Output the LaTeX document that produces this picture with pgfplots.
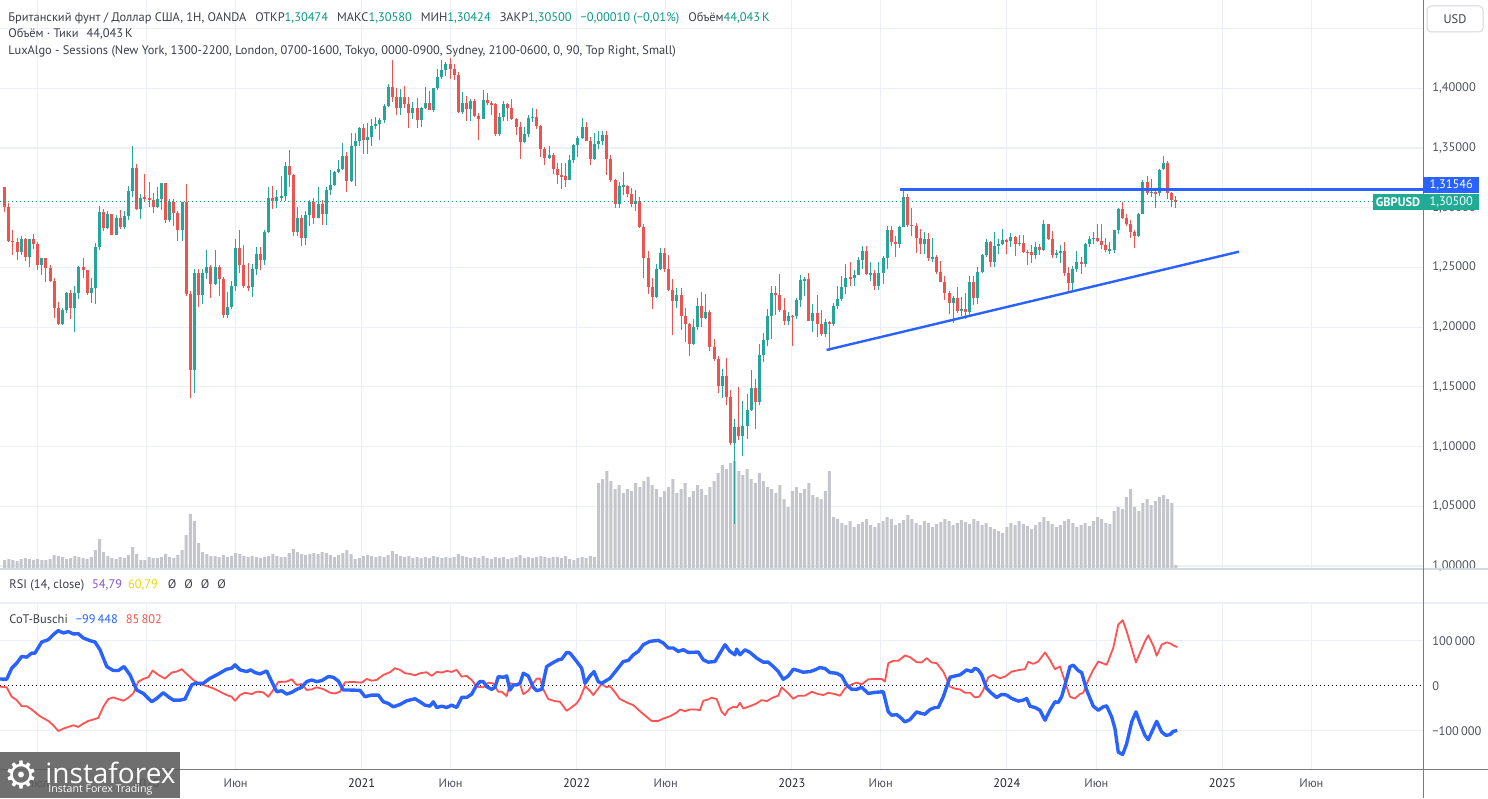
\documentclass[border=0pt]{standalone}
\usepackage{pgfplots}
\pgfplotsset{compat=1.18}
\usepackage{pgfplotstable}
\usepackage{fontspec}
\setmainfont{PT Sans}
\newfontfamily\logofont{Open Sans}
\newfontfamily\symfont{DejaVu Sans}
\definecolor{upc}{HTML}{26A69A}
\definecolor{dnc}{HTML}{EF5350}
\definecolor{volc}{RGB}{196,198,204}
\definecolor{gridc}{RGB}{236,239,245}
\definecolor{txt}{RGB}{60,63,72}
\definecolor{labc}{RGB}{80,83,94}
\definecolor{yearc}{RGB}{35,38,46}
\definecolor{tvteal}{HTML}{089981}
\definecolor{tagteal}{HTML}{22AB94}
\definecolor{tvblue}{HTML}{2962FF}
\definecolor{cotred}{HTML}{FF5252}
\definecolor{rsipurple}{HTML}{7E57C2}
\definecolor{rsiyellow}{RGB}{240,215,0}
\definecolor{axc}{RGB}{120,123,134}
\definecolor{sepc}{RGB}{212,215,223}
\definecolor{logoc}{RGB}{92,92,92}
\newcommand\tvf{\fontsize{6.2}{7.4}\selectfont}
\pgfplotsset{candle/.style={only marks, mark=*, mark size=0pt,
  mark options={draw=none, fill=none}, forget plot, restrict y to domain=0:5}}

% weekly GBPUSD candles (week 0 = 6 May 2019), v = volume (relative)
\pgfplotstableread{
o h l c v
1.3170 1.3177 1.2963 1.3003 9
1.3003 1.3043 1.2715 1.2720 10
1.2720 1.2813 1.2605 1.2715 9
1.2715 1.2750 1.2559 1.2625 8
1.2625 1.2764 1.2605 1.2737 10
1.2737 1.2745 1.2550 1.2587 11
1.2587 1.2740 1.2506 1.2734 10
1.2734 1.2784 1.2658 1.2697 9
1.2697 1.2710 1.2479 1.2523 10
1.2523 1.2581 1.2439 1.2575 9
1.2575 1.2579 1.2382 1.2497 9
1.2497 1.2524 1.2380 1.2385 10
1.2385 1.2410 1.2080 1.2160 14
1.2160 1.2210 1.2015 1.2028 13
1.2028 1.2163 1.2015 1.2145 12
1.2145 1.2295 1.2118 1.2289 10
1.2289 1.2311 1.2069 1.2158 11
1.2158 1.2348 1.1959 1.2289 13
1.2289 1.2512 1.2235 1.2500 12
1.2500 1.2582 1.2410 1.2475 11
1.2475 1.2480 1.2270 1.2290 10
1.2290 1.2410 1.2205 1.2330 12
1.2330 1.2708 1.2196 1.2670 19
1.2670 1.3013 1.2650 1.2965 30
1.2960 1.2990 1.2805 1.2834 17
1.2834 1.2976 1.2825 1.2945 13
1.2945 1.2950 1.2770 1.2775 11
1.2775 1.2935 1.2768 1.2910 10
1.2910 1.2985 1.2823 1.2838 12
1.2838 1.2976 1.2820 1.2932 11
1.2932 1.3180 1.2900 1.3140 14
1.3140 1.3514 1.3090 1.3335 22
1.3335 1.3370 1.2978 1.2990 15
1.2990 1.3118 1.2904 1.3078 9
1.3090 1.3285 1.3060 1.3080 9
1.3080 1.3215 1.3010 1.3063 12
1.3063 1.3120 1.2955 1.3005 11
1.3005 1.3175 1.2995 1.3070 11
1.3070 1.3210 1.2985 1.3205 12
1.3205 1.3210 1.2870 1.2895 15
1.2895 1.3070 1.2880 1.3045 12
1.3045 1.3070 1.2850 1.2955 11
1.2955 1.2975 1.2725 1.2810 14
1.2810 1.3050 1.2725 1.3045 19
1.3045 1.3200 1.2260 1.2280 34
1.2280 1.2300 1.1409 1.1640 55
1.1640 1.2487 1.1450 1.2455 48
1.2455 1.2485 1.2165 1.2265 26
1.2265 1.2485 1.2195 1.2455 17
1.2455 1.2647 1.2400 1.2505 15
1.2505 1.2520 1.2247 1.2365 13
1.2365 1.2643 1.2355 1.2505 13
1.2505 1.2520 1.2265 1.2405 12
1.2405 1.2420 1.2075 1.2100 14
1.2100 1.2295 1.2080 1.2170 12
1.2170 1.2390 1.2150 1.2345 13
1.2345 1.2735 1.2300 1.2665 16
1.2665 1.2813 1.2450 1.2520 15
1.2520 1.2686 1.2330 1.2345 13
1.2345 1.2540 1.2300 1.2335 12
1.2335 1.2525 1.2250 1.2485 13
1.2485 1.2670 1.2440 1.2615 12
1.2615 1.2670 1.2480 1.2565 11
1.2565 1.2815 1.2520 1.2795 12
1.2795 1.3170 1.2790 1.3085 13
1.3085 1.3185 1.2990 1.3055 15
1.3055 1.3145 1.3000 1.3090 13
1.3090 1.3267 1.3055 1.3095 12
1.3095 1.3380 1.3055 1.3350 12
1.3350 1.3482 1.3170 1.3275 16
1.3275 1.3285 1.2763 1.2795 20
1.2795 1.3007 1.2763 1.2915 17
1.2915 1.2935 1.2676 1.2745 15
1.2745 1.2975 1.2690 1.2940 14
1.2940 1.3063 1.2850 1.3045 15
1.3045 1.3082 1.2863 1.2915 16
1.2915 1.3177 1.2913 1.3035 15
1.3035 1.3063 1.2854 1.2945 17
1.2945 1.3177 1.2855 1.3150 16
1.3150 1.3313 1.3105 1.3190 14
1.3190 1.3310 1.3185 1.3300 12
1.3300 1.3400 1.3293 1.3325 14
1.3325 1.3539 1.3320 1.3435 16
1.3435 1.3468 1.3135 1.3225 19
1.3225 1.3625 1.3215 1.3515 15
1.3515 1.3625 1.3185 1.3560 10
1.3560 1.3675 1.3520 1.3670 11
1.3670 1.3703 1.3450 1.3565 13
1.3565 1.3710 1.3450 1.3590 14
1.3590 1.3745 1.3520 1.3685 13
1.3685 1.3760 1.3660 1.3705 12
1.3705 1.3755 1.3565 1.3735 13
1.3735 1.3865 1.3710 1.3850 12
1.3850 1.4035 1.3845 1.4010 14
1.4010 1.4240 1.3885 1.3925 18
1.3925 1.4005 1.3780 1.3835 15
1.3835 1.3990 1.3780 1.3925 13
1.3925 1.4017 1.3835 1.3865 12
1.3865 1.3925 1.3670 1.3795 13
1.3795 1.3886 1.3740 1.3835 11
1.3835 1.3920 1.3670 1.3735 12
1.3735 1.3840 1.3680 1.3835 11
1.3835 1.4010 1.3825 1.3875 12
1.3875 1.3980 1.3815 1.3820 11
1.3820 1.4005 1.3800 1.4000 13
1.4000 1.4165 1.3985 1.4095 12
1.4095 1.4235 1.4075 1.4150 11
1.4150 1.4220 1.4100 1.4205 12
1.4205 1.4250 1.4080 1.4160 11
1.4160 1.4205 1.4070 1.4110 12
1.4110 1.4135 1.3790 1.3805 15
1.3805 1.3970 1.3785 1.3875 13
1.3875 1.3935 1.3730 1.3825 12
1.3825 1.3910 1.3730 1.3890 11
1.3890 1.3910 1.3760 1.3765 12
1.3765 1.3790 1.3570 1.3745 11
1.3745 1.3985 1.3740 1.3905 13
1.3905 1.3960 1.3860 1.3875 11
1.3875 1.3890 1.3780 1.3865 10
1.3865 1.3880 1.3600 1.3620 12
1.3620 1.3790 1.3600 1.3760 11
1.3760 1.3890 1.3725 1.3870 12
1.3870 1.3880 1.3725 1.3835 10
1.3835 1.3910 1.3735 1.3740 11
1.3740 1.3750 1.3610 1.3675 12
1.3675 1.3720 1.3410 1.3550 14
1.3550 1.3675 1.3545 1.3620 11
1.3620 1.3780 1.3590 1.3755 12
1.3755 1.3835 1.3720 1.3760 11
1.3760 1.3825 1.3660 1.3680 12
1.3680 1.3695 1.3425 1.3495 13
1.3495 1.3510 1.3355 1.3415 12
1.3415 1.3515 1.3410 1.3440 11
1.3440 1.3455 1.3280 1.3325 12
1.3325 1.3375 1.3195 1.3270 12
1.3270 1.3375 1.3160 1.3265 11
1.3265 1.3375 1.3175 1.3235 13
1.3235 1.3440 1.3230 1.3400 10
1.3400 1.3530 1.3375 1.3525 9
1.3525 1.3600 1.3425 1.3580 11
1.3580 1.3750 1.3575 1.3675 12
1.3675 1.3720 1.3555 1.3560 11
1.3560 1.3590 1.3360 1.3405 13
1.3405 1.3625 1.3400 1.3530 12
1.3530 1.3645 1.3490 1.3560 86
1.3560 1.3645 1.3525 1.3605 90
1.3605 1.3640 1.3275 1.3410 98
1.3410 1.3440 1.3215 1.3230 88
1.3230 1.3240 1.3000 1.3035 80
1.3035 1.3215 1.3000 1.3180 84
1.3180 1.3300 1.3105 1.3185 76
1.3185 1.3190 1.3090 1.3115 80
1.3115 1.3165 1.3010 1.3035 78
1.3035 1.3145 1.2975 1.3060 86
1.3060 1.3090 1.2830 1.2835 82
1.2835 1.2860 1.2410 1.2575 88
1.2575 1.2640 1.2275 1.2335 92
1.2335 1.2410 1.2155 1.2255 84
1.2255 1.2525 1.2240 1.2490 80
1.2490 1.2665 1.2480 1.2625 72
1.2625 1.2665 1.2460 1.2490 78
1.2490 1.2600 1.2305 1.2310 82
1.2310 1.2405 1.1935 1.2215 90
1.2215 1.2325 1.2160 1.2270 76
1.2270 1.2330 1.1975 1.2095 80
1.2095 1.2160 1.1875 1.2030 86
1.2030 1.2035 1.1760 1.1860 72
1.1860 1.2065 1.1850 1.2005 78
1.2005 1.2245 1.1980 1.2180 84
1.2180 1.2295 1.2005 1.2075 80
1.2075 1.2275 1.2065 1.2130 74
1.2130 1.2145 1.1800 1.1830 82
1.1830 1.1900 1.1715 1.1730 88
1.1730 1.1760 1.1445 1.1505 96
1.1505 1.1650 1.1405 1.1590 104
1.1590 1.1740 1.1350 1.1415 100
1.1415 1.1475 1.1010 1.1030 106
1.1030 1.1235 1.0350 1.1165 108
1.1165 1.1495 1.1055 1.1090 98
1.1090 1.1380 1.0925 1.1175 94
1.1175 1.1440 1.1060 1.1305 100
1.1305 1.1645 1.1300 1.1490 90
1.1490 1.1565 1.1145 1.1375 86
1.1375 1.1855 1.1345 1.1770 96
1.1770 1.1955 1.1710 1.1890 88
1.1890 1.2155 1.1840 1.2090 82
1.2090 1.2345 1.1900 1.2285 80
1.2285 1.2345 1.2105 1.2265 76
1.2265 1.2445 1.2125 1.2140 84
1.2140 1.2240 1.2015 1.2050 70
1.2050 1.2130 1.2015 1.2095 62
1.2095 1.2100 1.1840 1.2090 78
1.2090 1.2245 1.2070 1.2225 82
1.2225 1.2435 1.2170 1.2395 76
1.2395 1.2420 1.2260 1.2400 80
1.2400 1.2450 1.2050 1.2050 86
1.2050 1.2195 1.1960 1.2120 74
1.2120 1.2270 1.1915 1.2030 72
1.2030 1.2145 1.1925 1.1945 70
1.1945 1.2065 1.1920 1.2040 78
1.2040 1.2050 1.1800 1.2030 98
1.2030 1.2205 1.2010 1.2175 52
1.2175 1.2345 1.2155 1.2235 50
1.2235 1.2425 1.2215 1.2335 46
1.2335 1.2525 1.2275 1.2415 44
1.2415 1.2545 1.2345 1.2410 48
1.2410 1.2475 1.2345 1.2440 42
1.2440 1.2585 1.2435 1.2565 45
1.2565 1.2680 1.2485 1.2635 47
1.2635 1.2680 1.2440 1.2445 50
1.2445 1.2545 1.2390 1.2450 44
1.2450 1.2475 1.2310 1.2345 42
1.2345 1.2545 1.2310 1.2455 46
1.2455 1.2595 1.2365 1.2575 48
1.2575 1.2850 1.2485 1.2815 52
1.2815 1.2850 1.2680 1.2715 50
1.2715 1.2760 1.2590 1.2695 44
1.2695 1.2850 1.2660 1.2840 46
1.2840 1.3145 1.2835 1.3090 49
1.3090 1.3115 1.2840 1.2855 54
1.2855 1.3000 1.2765 1.2850 50
1.2850 1.2875 1.2620 1.2745 46
1.2745 1.2820 1.2615 1.2700 44
1.2700 1.2795 1.2615 1.2735 48
1.2735 1.2790 1.2550 1.2575 46
1.2575 1.2745 1.2545 1.2590 42
1.2590 1.2600 1.2445 1.2465 45
1.2465 1.2550 1.2375 1.2380 47
1.2380 1.2425 1.2230 1.2290 50
1.2290 1.2305 1.2110 1.2200 48
1.2200 1.2260 1.2035 1.2240 44
1.2240 1.2335 1.2120 1.2135 46
1.2135 1.2255 1.2090 1.2155 49
1.2155 1.2290 1.2070 1.2125 47
1.2125 1.2430 1.2095 1.2380 45
1.2380 1.2430 1.2185 1.2240 50
1.2240 1.2505 1.2190 1.2460 48
1.2460 1.2615 1.2455 1.2600 44
1.2600 1.2735 1.2590 1.2710 46
1.2710 1.2720 1.2500 1.2545 42
1.2545 1.2795 1.2500 1.2680 40
1.2680 1.2735 1.2610 1.2700 38
1.2700 1.2825 1.2685 1.2730 36
1.2730 1.2735 1.2610 1.2720 42
1.2720 1.2785 1.2670 1.2755 46
1.2755 1.2765 1.2595 1.2700 44
1.2700 1.2775 1.2680 1.2705 48
1.2705 1.2775 1.2620 1.2630 45
1.2630 1.2645 1.2520 1.2625 43
1.2625 1.2690 1.2535 1.2600 40
1.2600 1.2710 1.2570 1.2670 44
1.2670 1.2700 1.2600 1.2650 47
1.2650 1.2895 1.2635 1.2860 52
1.2860 1.2865 1.2730 1.2735 48
1.2735 1.2805 1.2575 1.2600 45
1.2600 1.2650 1.2575 1.2620 42
1.2620 1.2685 1.2540 1.2635 44
1.2635 1.2710 1.2425 1.2450 48
1.2450 1.2505 1.2300 1.2370 50
1.2370 1.2510 1.2305 1.2490 46
1.2490 1.2635 1.2465 1.2545 42
1.2545 1.2590 1.2445 1.2525 44
1.2525 1.2705 1.2500 1.2700 46
1.2700 1.2760 1.2670 1.2740 43
1.2740 1.2800 1.2695 1.2745 48
1.2745 1.2860 1.2710 1.2720 52
1.2720 1.2860 1.2655 1.2685 50
1.2685 1.2745 1.2625 1.2645 46
1.2645 1.2710 1.2610 1.2650 45
1.2650 1.2815 1.2625 1.2810 58
1.2810 1.2995 1.2780 1.2990 62
1.2990 1.3045 1.2905 1.2915 60
1.2915 1.2950 1.2845 1.2860 72
1.2860 1.2900 1.2750 1.2800 80
1.2800 1.2810 1.2665 1.2760 62
1.2760 1.2955 1.2755 1.2945 58
1.2945 1.3230 1.2945 1.3215 66
1.3215 1.3265 1.3105 1.3125 70
1.3125 1.3240 1.3090 1.3130 64
1.3130 1.3155 1.3000 1.3120 68
1.3120 1.3325 1.3100 1.3320 72
1.3320 1.3435 1.3315 1.3375 74
1.3375 1.3390 1.3070 1.3125 70
1.3125 1.3135 1.3010 1.3065 66
1.3065 1.3095 1.2995 1.3050 4
}\candles

\begin{document}
\begin{tikzpicture}
\path[use as bounding box, fill=white] (0,0) rectangle (744pt,399pt);

% ---------------- price pane ----------------
\begin{axis}[
  at={(0pt,399pt)}, anchor=north west,
  width=711.65pt, height=284.5pt, scale only axis,
  xmin=-1.14, xmax=344, ymin=0.99749, ymax=1.47392,
  axis line style={draw=none}, major tick length=0pt,
  xtick={8,34.29,56,86.57,108.14,138.71,160.29,190.86,212.43,243,264.71,295.29,316.86},
  xticklabels={},
  ytick={1,1.05,1.1,1.15,1.2,1.25,1.3,1.35,1.4},
  extra y ticks={1.45}, extra y tick labels={},
  grid=major, major grid style={gridc, line width=0.6pt},
  yticklabel pos=right,
  yticklabel style={anchor=west, inner sep=0pt, xshift=4.35pt, font=\tvf, text=labc,
    /pgf/number format/fixed, /pgf/number format/fixed zerofill,
    /pgf/number format/precision=5, /pgf/number format/use comma,
    /pgf/number format/assume math mode=true},
  clip mode=individual,
]
% volume
\addplot[ybar, bar width=1.5pt, fill=volc, draw=none, forget plot]
  table[x expr=\coordindex, y expr=0.99749+\thisrow{v}/1194.3] {\candles};
% wicks
\addplot[candle, error bars/.cd, y dir=both, y explicit, error mark=none,
  error bar style={line width=0.5pt, draw=upc}]
  table[x expr=\coordindex, y expr={\thisrow{c}<\thisrow{o} ? 10 : (\thisrow{h}+\thisrow{l})/2},
        y error expr={(\thisrow{h}-\thisrow{l})/2}] {\candles};
\addplot[candle, error bars/.cd, y dir=both, y explicit, error mark=none,
  error bar style={line width=0.5pt, draw=dnc}]
  table[x expr=\coordindex, y expr={\thisrow{c}<\thisrow{o} ? (\thisrow{h}+\thisrow{l})/2 : 10},
        y error expr={(\thisrow{h}-\thisrow{l})/2}] {\candles};
% bodies
\addplot[candle, error bars/.cd, y dir=both, y explicit, error mark=none,
  error bar style={line width=1.5pt, draw=upc}]
  table[x expr=\coordindex, y expr={\thisrow{c}<\thisrow{o} ? 10 : (\thisrow{o}+\thisrow{c})/2},
        y error expr={max(abs(\thisrow{c}-\thisrow{o})/2,0.0004)}] {\candles};
\addplot[candle, error bars/.cd, y dir=both, y explicit, error mark=none,
  error bar style={line width=1.5pt, draw=dnc}]
  table[x expr=\coordindex, y expr={\thisrow{c}<\thisrow{o} ? (\thisrow{o}+\thisrow{c})/2 : 10},
        y error expr={max(abs(\thisrow{c}-\thisrow{o})/2,0.0004)}] {\candles};
% current price line
\addplot[tvteal, line width=0.6pt, dash pattern=on 0.6pt off 1.4pt, forget plot]
  coordinates {(-1.14,1.305) (344,1.305)};
% drawn levels
\addplot[tvblue, line width=1.4pt, forget plot] coordinates {(217.1,1.31546) (344,1.31546)};
\addplot[tvblue, line width=1.2pt, forget plot] coordinates {(199.3,1.1809) (299.3,1.2632)};
\end{axis}

% ---------------- CoT pane ----------------
\begin{axis}[
  at={(0pt,97.35pt)}, anchor=north west,
  width=711.65pt, height=83pt, scale only axis,
  xmin=-1.14, xmax=344, ymin=-185.8, ymax=183.0,
  axis line style={draw=none}, major tick length=0pt,
  xtick={8,34.29,56,86.57,108.14,138.71,160.29,190.86,212.43,243,264.71,295.29,316.86},
  xticklabels={Июл,{\color{yearc}2020},Июн,{\color{yearc}2021},Июн,{\color{yearc}2022},Июн,{\color{yearc}2023},Июн,{\color{yearc}2024},Июн,{\color{yearc}2025},Июн},
  xticklabel style={anchor=center, inner sep=0pt, yshift=-6.85pt, font=\tvf, text=labc},
  ytick={-100,100}, yticklabels={−100\,000,100\,000},
  extra y ticks={0}, extra y tick labels={0},
  extra y tick style={major grid style={black, line width=0.6pt, dash pattern=on 0.6pt off 1.4pt}},
  grid=major, major grid style={gridc, line width=0.6pt},
  yticklabel pos=right,
  yticklabel style={anchor=west, inner sep=0pt, xshift=4.35pt, font=\tvf, text=labc},
]
\addplot[cotred, line width=0.9pt, line join=round, forget plot,
  x filter/.expression={(x-4.7)/4.124}] coordinates {
(0,-2.2) (6.7,-3.7) (11.7,-24.6) (16.7,-32.1) (21.7,-45.5) (26.7,-45.5) (31.7,-53.0) (40,-67.9) (48.3,-78.3) (53.3,-88.0)
(58.3,-100.7) (63.3,-95.5) (68.3,-91.7) (73.3,-88.0) (78.3,-91.7) (83.3,-84.3) (88.3,-78.3) (93.3,-75.3) (98.3,-71.6) (103.3,-47.0)
(108.3,-29.8) (113.3,-26.1) (118.3,-29.8) (123.3,-33.6) (128.3,-26.9) (133.3,-17.2) (138.3,9.0) (143.3,14.9) (148.3,18.7) (152.7,33.6)
(158.3,23.9) (165,15.7) (171.7,29.1) (176.7,31.3) (181.7,36.6) (186.7,26.1) (193.3,12.7) (200,3.7) (206.7,-0.7) (213.3,-6.0)
(220,-13.4) (226.7,-20.9) (231.7,-24.6) (235,-33.6) (240,-20.9) (245,-15.7) (251.7,-18.7) (256.7,-13.4) (263.3,-14.9) (268.3,-24.6)
(273.3,-9.7) (278.3,8.2) (286.7,9.0) (291.7,14.2) (296.7,1.5) (301.7,3.7) (306.7,-9.7) (311.7,-8.2) (316.7,-3.7) (323.3,-7.5)
(330,-15.7) (335,-17.2) (340,-13.4) (345,7.5) (353.3,8.2) (361.7,6.7) (366.7,14.9) (371.7,11.2) (376.7,12.7) (383.3,23.9)
(390,29.8) (395,38.8) (400,35.1) (405,27.6) (410,26.1) (415,23.1) (420,27.6) (426.7,29.8) (431.7,21.6) (436.7,30.6)
(441.7,29.1) (446.7,32.8) (451.7,30.6) (456.7,35.1) (461.7,20.1) (466.7,21.6) (471.7,12.7) (476.7,-2.2) (483.3,-3.7) (488.3,6.7)
(493.3,5.2) (498.3,-13.4) (501.7,-13.4) (506.7,-23.1) (510,5.2) (515,3.7) (520,3.7) (523.3,-18.7) (528.3,-11.2) (533.3,5.2)
(536.7,15.7) (540,15.7) (543.3,-8.2) (548.3,-29.8) (555,-34.3) (560,-35.8) (566.7,-56.0) (570,-50.7) (576.7,-39.5) (580,-28.4)
(585,-0.7) (590,-11.2) (593.3,-20.9) (598.3,-6.0) (601.7,3.7) (606.7,-3.7) (610,-0.7) (615,-14.9) (620,-29.8) (626.7,-37.3)
(633.3,-43.3) (640,-56.7) (646.7,-69.4) (651.7,-78.3) (658.3,-78.3) (663.3,-73.1) (670,-67.9) (676.7,-59.7) (680,-53.0) (685,-56.7)
(690,-53.0) (696.7,-53.0) (700,-54.5) (703.3,-33.6) (708.3,-30.6) (711.7,-26.9) (716.7,-29.8) (721.7,-58.2) (725,-65.6) (728.3,-53.0)
(733.3,-47.0) (736.7,-48.5) (740,-38.0) (743.3,-50.7) (750,-45.5) (756.7,-39.5) (761.7,-32.1) (766.7,-34.3) (773.3,-26.1) (778.3,-22.4)
(781.7,-3.7) (788.3,-17.2) (793.3,-29.1) (798.3,-22.4) (805,-22.4) (811.7,-13.4) (818.3,-18.7) (823.3,-20.9) (828.3,-15.7) (835,-18.7)
(840,-22.4) (845,-6.0) (851.7,3.0) (856.7,6.7) (861.7,3.0) (868.3,14.2) (875,14.9) (881.7,14.9) (885,9.0) (888.3,50.0)
(893.3,55.2) (898.3,55.2) (905,67.1) (910,63.4) (916.7,52.2) (921.7,51.5) (926.7,61.2) (931.7,51.5) (936.7,50.0) (943.3,31.3)
(950,-2.2) (955,-6.7) (960,-8.2) (965,-15.7) (970,-15.7) (975,-26.1) (979.3,-24.6) (983.3,-9.7) (988.3,18.7) (993.3,23.9)
(1000,16.4) (1005,20.1) (1011.7,31.3) (1020,35.1) (1025,36.6) (1028.3,53.0) (1033.3,48.5) (1038.3,53.7) (1045,73.9) (1050,57.4)
(1055,36.6) (1060,42.5) (1065,9.0) (1070,-24.6) (1075,-28.4) (1080,-18.7) (1083.3,-15.7) (1088.3,12.7) (1093.3,35.1) (1098.3,53.7)
(1106.7,46.3) (1113.3,83.6) (1118.3,135.8) (1122.7,145.5) (1126.7,120.9) (1131.7,83.6) (1136,51.5) (1140,72.4) (1145,98.5) (1148.3,111.9)
(1153.3,88.8) (1156.7,66.4) (1161.7,91.0) (1166.7,96.2) (1170.7,93.3) (1173.3,89.5) (1177.3,85.8)
};
\addplot[tvblue, line width=1.7pt, line join=round, forget plot,
  x filter/.expression={(x-4.7)/4.124}] coordinates {
(0,14.9) (6.7,14.2) (11.7,38.8) (16.7,50.0) (21.7,64.9) (26.7,63.4) (31.7,72.4) (35,72.4) (41.7,97.0) (48.3,102.2)
(53.3,113.4) (58.3,122.3) (63.3,117.1) (68.3,120.1) (73.3,114.9) (78.3,115.6) (83.3,105.9) (90,100.0) (95,97.0) (100,79.8)
(106.7,42.5) (113.3,33.6) (118.3,33.6) (124,42.5) (130,23.9) (136.7,-9.7) (143.3,-17.2) (151.7,-35.8) (156.7,-28.4) (163.3,-15.7)
(168.3,-24.6) (173.3,-32.1) (180,-32.1) (185,-29.8) (191.7,1.5) (195,5.2) (203.3,5.2) (210,16.4) (216.7,23.9) (226.7,36.6)
(231.7,38.8) (235,46.3) (240,35.1) (246.7,31.3) (250.7,35.1) (255,29.1) (260,26.1) (266.7,32.8) (271.7,9.0) (276.7,-13.4)
(281.7,-11.2) (286.7,-18.7) (291.7,-14.9) (296.7,-8.2) (301.7,-3.7) (306.7,9.0) (311.7,12.7) (316.7,9.0) (321.7,11.2) (328.3,20.1)
(333.3,18.7) (338.3,10.4) (343.3,-9.7) (350,-9.7) (360,-10.4) (365,-24.6) (371.7,-20.9) (378.3,-20.9) (383.3,-35.8) (388.3,-39.5)
(393.3,-47.0) (400,-41.8) (406.7,-33.6) (415,-29.1) (420,-35.8) (425,-43.3) (430,-45.5) (433.3,-35.8) (436.7,-48.5) (441.7,-45.5)
(446.7,-48.5) (451.7,-43.3) (456.7,-48.5) (461.7,-26.1) (466.7,-26.1) (471.7,-18.7) (476.7,1.5) (480,9.0) (483.3,9.0) (486.7,-2.2)
(491.7,-8.2) (495,-3.7) (498.3,20.1) (503.3,18.7) (506.7,21.6) (510,-9.7) (513.3,1.5) (516.7,1.5) (520,5.2) (523.3,27.6)
(528.3,21.6) (533.3,-3.7) (536.7,-11.2) (541.7,-8.2) (546.7,42.5) (553.3,51.5) (558.3,57.4) (561.7,58.9) (566.7,73.9) (570,72.4)
(576.7,53.7) (581.7,38.8) (585,5.2) (590,21.6) (594,31.3) (598.3,9.0) (601.7,5.2) (610,16.4) (616.7,35.1) (623.3,53.7)
(628.3,56.0) (633.3,68.6) (638.3,76.1) (643.3,91.0) (650,98.5) (658.3,100.7) (663.3,94.7) (668.3,83.6) (673.3,83.6) (678.3,76.1)
(683.3,79.8) (688.3,73.9) (698.3,74.6) (703.3,57.4) (708.3,52.2) (715,53.7) (720,72.4) (725,91.0) (730,76.1) (735,68.6)
(736.7,81.3) (740,68.6) (745,79.8) (750,73.9) (756.7,61.2) (763.3,52.2) (768.3,52.2) (773.3,42.5) (778.3,31.3) (783.3,14.2)
(788.3,21.6) (793.3,36.6) (798.3,33.6) (803.3,29.8) (810,31.3) (815,35.1) (820,40.3) (825,38.0) (830,29.1) (836.7,27.6)
(841.7,21.6) (846.7,1.5) (851.7,-8.2) (856.7,-8.2) (861.7,-3.7) (868.3,-17.2) (875,-14.9) (883.3,-13.4) (888.3,-58.2) (891.7,-65.6)
(896.7,-64.2) (901.7,-73.1) (905,-80.6) (910,-75.3) (916.7,-58.2) (921.7,-61.9) (925,-63.4) (930,-53.0) (935,-48.5) (938.3,-48.5)
(943.3,-24.6) (950,18.7) (955,21.6) (960,23.9) (966.7,35.1) (971.7,31.3) (975,38.8) (978.3,35.1) (981.7,23.9) (986.7,-6.0)
(991.7,-17.2) (996.7,-26.1) (1001.7,-19.4) (1006.7,-20.9) (1011.7,-28.4) (1018.3,-34.3) (1023.3,-32.1) (1026.7,-28.4) (1030,-45.5) (1035,-48.5)
(1040,-54.5) (1045,-76.8) (1050,-54.5) (1055,-35.8) (1058.3,-37.3) (1061.7,-24.6) (1065,1.5) (1070,42.5) (1073.3,45.5) (1078.3,33.6)
(1081.7,29.1) (1086.7,-9.7) (1093.3,-45.5) (1098.3,-54.5) (1103.3,-47.0) (1106.7,-44.8) (1111.7,-69.4) (1115,-95.5) (1118.3,-147.7) (1122.7,-152.9)
(1126.7,-129.1) (1131.7,-80.6) (1136,-58.2) (1140,-82.8) (1145,-110.4) (1148.3,-120.1) (1153.3,-95.5) (1156.7,-79.1) (1161.7,-102.9) (1166,-110.4)
(1170,-108.9) (1173.3,-101.5) (1177.3,-99.4)
};
\end{axis}

% ---------------- frame and decorations ----------------
\draw[sepc, line width=0.6pt] (0,114.5pt) -- (744pt,114.5pt);
\draw[gridc, line width=0.6pt] (0,97.5pt) -- (744pt,97.5pt);
\draw[axc, line width=0.6pt] (0,14.35pt) -- (744pt,14.35pt);
\draw[axc, line width=0.6pt] (711.65pt,0) -- (711.65pt,399pt);

% USD button
\draw[sepc, fill=white, rounded corners=2pt, line width=0.5pt] (713.5pt,383pt) rectangle (741.5pt,396pt);
\node[font=\tvf, text=txt, inner sep=0pt] at (727.5pt,389.5pt) {USD};

% price tags
\fill[tvblue] (711.65pt,302.65pt) rectangle (739.65pt,310.35pt);
\node[font=\tvf, text=white, inner sep=0pt] at (725.65pt,306.5pt) {1,31546};
\fill[tagteal] (711.65pt,294pt) rectangle (739.65pt,302pt);
\node[font=\tvf, text=white, inner sep=0pt] at (725.65pt,298pt) {1,30500};
\fill[tagteal] (686.35pt,294pt) rectangle (711.65pt,302pt);
\node[font=\tvf\bfseries, text=white, inner sep=0pt] at (699pt,298pt) {GBPUSD};

% header
\node[anchor=west, inner sep=0pt, font=\tvf, text=txt] at (4pt,390pt)
  {Британский фунт / Доллар США, 1H, OANDA\hspace{4.5pt}ОТКР\textcolor{tvteal}{1,30474}\hspace{4.5pt}МАКС\textcolor{tvteal}{1,30580}\hspace{4.5pt}МИН\textcolor{tvteal}{1,30424}\hspace{4.5pt}ЗАКР\textcolor{tvteal}{1,30500}\hspace{4.5pt}\textcolor{tvteal}{−0,00010 (−0,01\%)}\hspace{4.5pt}Объём\textcolor{tvteal}{44,043\,K}};
\node[anchor=west, inner sep=0pt, font=\tvf, text=txt] at (4pt,382pt)
  {Объём · Тики\hspace{4pt}44,043\,K};
\node[anchor=west, inner sep=0pt, font=\tvf, text=txt] at (4pt,373.5pt)
  {LuxAlgo - Sessions (New York, 1300-2200, London, 0700-1600, Tokyo, 0000-0900, Sydney, 2100-0600, 0, 90, Top Right, Small)};

% RSI pane header
\node[anchor=west, inner sep=0pt, font=\tvf, text=txt] at (4.5pt,106.5pt)
  {RSI (14, close)\hspace{4pt}\textcolor{rsipurple}{54,79}\hspace{3pt}\textcolor{rsiyellow}{60,79}\hspace{5pt}Ø\hspace{4pt}Ø\hspace{4pt}Ø\hspace{4pt}Ø};
% CoT header
\node[anchor=west, inner sep=0pt, font=\tvf, text=txt] at (4.5pt,89.5pt)
  {CoT-Buschi\hspace{4pt}\textcolor{tvblue}{−99\,448}\hspace{4pt}\textcolor{cotred}{85\,802}};

% logo
\fill[logoc, opacity=0.88] (0,0) rectangle (90pt,23pt);
\node[text=white, font=\symfont\fontsize{19}{19}\selectfont, inner sep=0pt] at (11pt,11.5pt) {⚙};
\node[text=white, anchor=base west, inner sep=0pt, font=\logofont\fontsize{14}{14}\selectfont] at (22.5pt,7.4pt) {instaforex};
\node[text=white, anchor=base west, inner sep=0pt, font=\logofont\fontsize{5.3}{6}\selectfont] at (24pt,2.6pt) {Instant Forex Trading};
\end{tikzpicture}
\end{document}
